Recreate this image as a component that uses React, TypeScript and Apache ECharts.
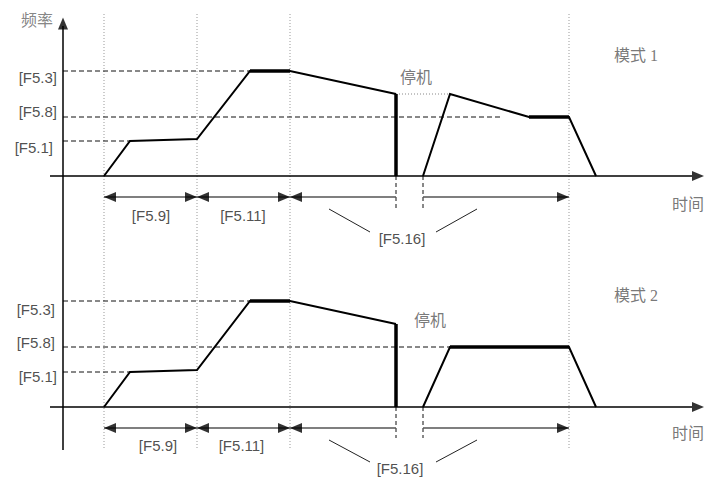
import React, { useEffect, useRef } from "react";
import * as echarts from "echarts";

// ---------- data ----------
const LEVEL_LABELS = ["[F5.1]", "[F5.8]", "[F5.3]"];
const INTERVAL_LABELS = ["[F5.9]", "[F5.11]", "[F5.16]"];
const MODE_NAMES = ["模式 1", "模式 2"];
const FREQ_NAME = "频率";
const TIME_NAME = "时间";
const STOP_LABEL = "停机";

// frequency levels per mode: F5.1, F5.8, F5.3
const LEVELS_MODE1 = [35, 59, 105];
const LEVELS_MODE2 = [35, 60, 106];
// where each reference line ends (time)
const REF_END_MODE1 = [8.0, 45.3, 20.0];
const REF_END_MODE2 = [8.0, 40.0, 20.0];

// frequency traces [time, frequency]
const MODE1_RUN = [[5.4, 0], [8.0, 35], [14.7, 37], [20.0, 105], [24.0, 105], [34.6, 82]];
const MODE1_STOP = [[34.6, 82], [34.6, 0]];
const MODE1_RESTART = [[37.3, 0], [40.0, 82], [47.9, 59], [51.9, 59], [54.6, 0]];
const MODE2_RUN = [[5.4, 0], [8.0, 35], [14.7, 37], [20.0, 106], [24.0, 106], [34.6, 83]];
const MODE2_STOP = [[34.6, 83], [34.6, 0]];
const MODE2_RESTART = [[37.3, 0], [40.0, 60], [51.9, 60], [54.6, 0]];

// phase boundaries on time axis
const PHASES = [5.4, 14.7, 24.0, 34.6, 37.3, 51.9];
const AXIS_T = 1.3;
const TIME_END = 64.2;

// ---------- helpers ----------
const CJK = "'Liberation Serif', 'Noto Sans CJK SC', serif";
const LATIN = "'Liberation Sans', Arial, sans-serif";

const lineS = (gi: number, data: any[], color: string, width: number, type: any = "solid", z = 2) => ({
  type: "line",
  xAxisIndex: gi,
  yAxisIndex: gi,
  data,
  symbol: "none",
  silent: true,
  clip: false,
  lineStyle: { color, width, type, cap: "butt", join: "miter" },
  z,
});

const textS = (gi: number, items: any[]) => ({
  type: "scatter",
  xAxisIndex: gi,
  yAxisIndex: gi,
  symbolSize: 1,
  itemStyle: { color: "rgba(0,0,0,0)" },
  silent: true,
  clip: false,
  z: 6,
  data: items.map((it) => ({
    value: [it.t, it.f],
    label: {
      show: true,
      position: "inside",
      formatter: it.text,
      align: it.align || "center",
      verticalAlign: "middle",
      fontSize: it.size,
      fontFamily: it.font,
      color: it.color,
    },
  })),
});

const arrowS = (gi: number, items: any[]) => ({
  type: "scatter",
  xAxisIndex: gi,
  yAxisIndex: gi,
  symbol: "triangle",
  symbolSize: [10, 12],
  itemStyle: { color: "#000" },
  silent: true,
  clip: false,
  z: 7,
  data: items.map((it) => ({ value: [it.t, it.f], symbolRotate: it.rot })),
});

const HEAD = 0.6; // half arrowhead length in time units

type Pt = { t: number; f: number };
type Layout = {
  dimF: number;
  dashBot: number;
  slants: number[][][];
  dotTop: number;
  dotBot: number;
  yTop: number | null;
  yLineTop: number;
  yLineBot: number;
  levelLabels: Pt[];
  intervalLabels: Pt[];
  stopLabel: Pt;
  modeLabel: Pt;
  timeLabel: Pt;
};

const LAYOUTS: Layout[] = [
  {
    dimF: -21,
    dashBot: -32,
    slants: [[[27.9, -33], [32.0, -56]], [[38.6, -56], [42.7, -33]]],
    dotTop: 162,
    dotBot: -64,
    yTop: 152.5,
    yLineTop: 150,
    yLineBot: -64,
    levelLabels: [{ t: 0.3, f: 29 }, { t: 0.7, f: 65 }, { t: 0.7, f: 99 }],
    intervalLabels: [{ t: 10.1, f: -39 }, { t: 19.3, f: -39 }, { t: 35.2, f: -62 }],
    stopLabel: { t: 36.6, f: 99 },
    modeLabel: { t: 58.6, f: 121 },
    timeLabel: { t: 63.8, f: -28 },
  },
  {
    dimF: -21,
    dashBot: -31,
    slants: [[[27.9, -33], [32.0, -55]], [[38.6, -55], [42.7, -33]]],
    dotTop: 167,
    dotBot: -43,
    yTop: null,
    yLineTop: 167,
    yLineBot: -43,
    levelLabels: [{ t: 0.7, f: 31 }, { t: 0.5, f: 65 }, { t: 0.5, f: 98 }],
    intervalLabels: [{ t: 10.8, f: -38 }, { t: 19.15, f: -38 }, { t: 35.0, f: -61 }],
    stopLabel: { t: 38.0, f: 87 },
    modeLabel: { t: 58.6, f: 112 },
    timeLabel: { t: 63.8, f: -26 },
  },
];

function buildPanel(gi: number, levels: number[], refEnd: number[], run: number[][], stop: number[][], restart: number[][], holds: number[][][], stopDotted: boolean) {
  const L = LAYOUTS[gi];
  const s: any[] = [];
  // vertical dotted phase lines
  [0, 1, 2, 5].forEach((i) => {
    s.push(lineS(gi, [[PHASES[i], L.dotTop], [PHASES[i], L.dotBot]], "#999", 1, [1, 2], 1));
  });
  // axes
  s.push(lineS(gi, [[AXIS_T, L.yLineTop], [AXIS_T, L.yLineBot]], "#000", 1.5, "solid", 3));
  s.push(lineS(gi, [[0, 0], [TIME_END, 0]], "#000", 1.5, "solid", 3));
  // reference levels
  levels.forEach((lv, i) => {
    s.push(lineS(gi, [[AXIS_T, lv], [refEnd[i], lv]], "#111", 1, [5, 3], 2));
  });
  // traces
  s.push(lineS(gi, run, "#000", 2, "solid", 4));
  s.push(lineS(gi, restart, "#000", 2, "solid", 4));
  s.push(lineS(gi, stop, "#000", 3.5, "solid", 4));
  holds.forEach((h) => s.push(lineS(gi, h, "#000", 3.5, "solid", 4)));
  if (stopDotted) {
    s.push(lineS(gi, [stop[0], [restart[1][0], stop[0][1]]], "#888", 1, [1, 2], 2));
  }
  // dashed markers at stop / restart
  [PHASES[3], PHASES[4]].forEach((t) => {
    s.push(lineS(gi, [[t, 0], [t, L.dashBot]], "#111", 1, [4, 3], 2));
  });
  // dimension lines
  const spans = [[0, 1], [1, 2], [2, 3], [4, 5]];
  spans.forEach(([a, b]) => {
    s.push(lineS(gi, [[PHASES[a], L.dimF], [PHASES[b], L.dimF]], "#555", 1.5, "solid", 3));
  });
  const heads: any[] = [
    { t: PHASES[0] + HEAD, f: L.dimF, rot: 90 },
    { t: PHASES[1] - HEAD, f: L.dimF, rot: -90 },
    { t: PHASES[1] + HEAD, f: L.dimF, rot: 90 },
    { t: PHASES[2] - HEAD, f: L.dimF, rot: -90 },
    { t: PHASES[2] + HEAD, f: L.dimF, rot: 90 },
    { t: PHASES[5] - HEAD, f: L.dimF, rot: -90 },
    { t: TIME_END + HEAD, f: 0, rot: -90 },
  ];
  if (L.yTop !== null) heads.push({ t: AXIS_T, f: L.yTop, rot: 0 });
  s.push(arrowS(gi, heads));
  // slanted leaders
  L.slants.forEach((sl) => s.push(lineS(gi, sl, "#222", 1, "solid", 2)));
  // texts
  const texts: any[] = [];
  LEVEL_LABELS.forEach((txt, i) => {
    texts.push({ ...L.levelLabels[i], text: txt, align: "right", size: 15, font: LATIN, color: "#222" });
  });
  INTERVAL_LABELS.forEach((txt, i) => {
    texts.push({ ...L.intervalLabels[i], text: txt, size: 15, font: LATIN, color: "#222" });
  });
  texts.push({ ...L.stopLabel, text: STOP_LABEL, size: 16, font: CJK, color: "#555" });
  texts.push({ ...L.modeLabel, text: MODE_NAMES[gi], size: 16, font: CJK, color: "#555" });
  texts.push({ ...L.timeLabel, text: TIME_NAME, size: 16, font: CJK, color: "#555" });
  if (gi === 0) texts.push({ t: -1.3, f: 156, text: FREQ_NAME, size: 16, font: CJK, color: "#666" });
  s.push(textS(gi, texts));
  return s;
}

export default function App() {
  const ref = useRef<HTMLDivElement>(null);
  useEffect(() => {
    if (!ref.current) return;
    const chart = echarts.init(ref.current, undefined, { renderer: "svg" });
    const series = [
      ...buildPanel(0, LEVELS_MODE1, REF_END_MODE1, MODE1_RUN, MODE1_STOP, MODE1_RESTART,
        [MODE1_RUN.slice(3, 5), MODE1_RESTART.slice(2, 4)], true),
      ...buildPanel(1, LEVELS_MODE2, REF_END_MODE2, MODE2_RUN, MODE2_STOP, MODE2_RESTART,
        [MODE2_RUN.slice(3, 5), MODE2_RESTART.slice(1, 3)], false),
    ];
    chart.setOption({
      animation: false,
      backgroundColor: "#fff",
      grid: [
        { left: 0, width: 705, top: 10, height: 245 },
        { left: 0, width: 705, top: 230, height: 248 },
      ],
      xAxis: [
        { gridIndex: 0, type: "value", min: -5, max: 65.5, show: false },
        { gridIndex: 1, type: "value", min: -5, max: 65.5, show: false },
      ],
      yAxis: [
        { gridIndex: 0, type: "value", min: -79, max: 166, show: false },
        { gridIndex: 1, type: "value", min: -71, max: 177, show: false },
      ],
      series,
    });
    return () => chart.dispose();
  }, []);
  return <div ref={ref} style={{ position: "fixed", left: 0, top: 0, width: 705, height: 478 }} />;
}
